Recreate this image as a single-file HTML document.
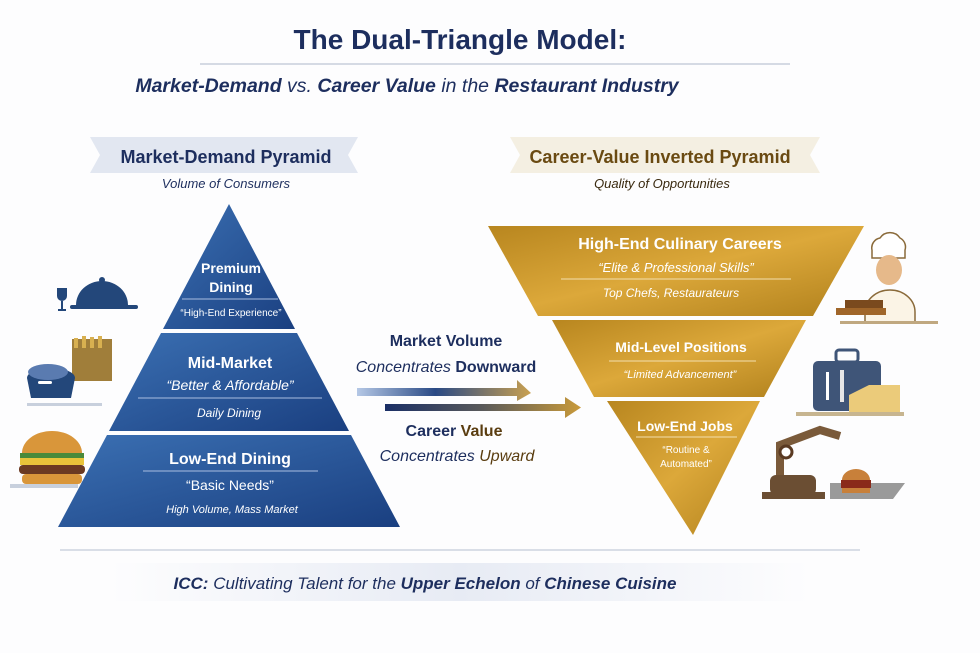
<!DOCTYPE html>
<html><head><meta charset="utf-8"><style>
html,body{margin:0;padding:0;background:#fdfdfe;}
svg{display:block;font-family:"Liberation Sans",sans-serif;}
</style></head><body>
<svg width="980" height="653" viewBox="0 0 980 653" xmlns="http://www.w3.org/2000/svg">
<defs>
<linearGradient id="bl" x1="0" y1="0" x2="1" y2="1"><stop offset="0" stop-color="#3b70b3"/><stop offset="1" stop-color="#1a3f80"/></linearGradient>
<linearGradient id="gd" x1="0" y1="0" x2="1" y2="1"><stop offset="0" stop-color="#b8861f"/><stop offset="0.5" stop-color="#dca83a"/><stop offset="1" stop-color="#b0801c"/></linearGradient>
<linearGradient id="a1" x1="0" x2="1"><stop offset="0" stop-color="#b5c8e6"/><stop offset="0.45" stop-color="#2a4a85"/><stop offset="1" stop-color="#c9a050"/></linearGradient>
<linearGradient id="a2" x1="0" x2="1"><stop offset="0" stop-color="#1a2f66"/><stop offset="0.5" stop-color="#5a5a5a"/><stop offset="1" stop-color="#c99a3a"/></linearGradient>
<linearGradient id="ft" x1="0" x2="1"><stop offset="0" stop-color="#fdfdfe"/><stop offset="0.5" stop-color="#e7ebf4"/><stop offset="1" stop-color="#fdfdfe"/></linearGradient>
</defs>
<text x="460" y="49" text-anchor="middle" font-size="28" font-weight="bold" fill="#1d2e5e">The Dual-Triangle Model:</text>
<line x1="200" y1="64" x2="790" y2="64" stroke="#c8cfdc" stroke-width="1.5"/>
<text x="407" y="92" text-anchor="middle" font-size="19.5" font-style="italic" fill="#1d2e5e"><tspan font-weight="bold">Market-Demand</tspan> vs. <tspan font-weight="bold">Career Value</tspan> in the <tspan font-weight="bold">Restaurant Industry</tspan></text>

<polygon points="90,137 358,137 348,155 358,173 90,173 100,155" fill="#e2e7f1"/>
<text x="226" y="163" text-anchor="middle" font-size="18" font-weight="bold" fill="#1d2e5e">Market-Demand Pyramid</text>
<text x="226" y="188" text-anchor="middle" font-size="13" font-style="italic" fill="#1d2e5e">Volume of Consumers</text>
<polygon points="510,137 820,137 810,155 820,173 510,173 520,155" fill="#f4efe2"/>
<text x="660" y="163" text-anchor="middle" font-size="18" font-weight="bold" fill="#6a4a12">Career-Value Inverted Pyramid</text>
<text x="662" y="188" text-anchor="middle" font-size="13" font-style="italic" fill="#3a2a10">Quality of Opportunities</text>

<polygon points="229,204 295,329 163,329" fill="url(#bl)"/>
<polygon points="161,333 297,333 349,431 109,431" fill="url(#bl)"/>
<polygon points="107,435 351,435 400,527 58,527" fill="url(#bl)"/>
<g fill="#fff" text-anchor="middle">
<text x="231" y="273" font-size="14" font-weight="bold">Premium</text>
<text x="231" y="292" font-size="14" font-weight="bold">Dining</text>
<line x1="182" y1="299" x2="278" y2="299" stroke="#a9bde0"/>
<text x="231" y="316" font-size="10">“High-End Experience”</text>
<text x="230" y="368" font-size="16" font-weight="bold">Mid-Market</text>
<text x="230" y="390" font-size="14" font-style="italic">“Better &amp; Affordable”</text>
<line x1="138" y1="398" x2="322" y2="398" stroke="#a9bde0"/>
<text x="229" y="417" font-size="12" font-style="italic">Daily Dining</text>
<text x="230" y="464" font-size="16" font-weight="bold">Low-End Dining</text>
<line x1="143" y1="471" x2="318" y2="471" stroke="#a9bde0"/>
<text x="230" y="490" font-size="14">“Basic Needs”</text>
<text x="232" y="513" font-size="11" font-style="italic">High Volume, Mass Market</text>
</g>

<polygon points="488,226 864,226 813,316 538,316" fill="url(#gd)"/>
<polygon points="552,320 806,320 764,397 594,397" fill="url(#gd)"/>
<polygon points="607,401 760,401 693,535" fill="url(#gd)"/>
<g fill="#fff" text-anchor="middle">
<text x="680" y="249" font-size="16" font-weight="bold">High-End Culinary Careers</text>
<text x="676" y="272" font-size="13" font-style="italic">“Elite &amp; Professional Skills”</text>
<line x1="561" y1="279" x2="791" y2="279" stroke="#f3dfae"/>
<text x="671" y="297" font-size="12" font-style="italic">Top Chefs, Restaurateurs</text>
<text x="681" y="352" font-size="14" font-weight="bold">Mid-Level Positions</text>
<line x1="609" y1="361" x2="756" y2="361" stroke="#f3dfae"/>
<text x="680" y="378" font-size="11" font-style="italic">“Limited Advancement”</text>
<text x="685" y="431" font-size="14" font-weight="bold">Low-End Jobs</text>
<line x1="636" y1="437" x2="737" y2="437" stroke="#f3dfae"/>
<text x="686" y="453" font-size="10">“Routine &amp;</text>
<text x="686" y="467" font-size="10">Automated”</text>
</g>

<text x="446" y="346" text-anchor="middle" font-size="16" font-weight="bold" fill="#1d2e5e">Market Volume</text>
<text x="446" y="372" text-anchor="middle" font-size="16" fill="#1d2e5e"><tspan font-style="italic">Concentrates</tspan> <tspan font-weight="bold">Downward</tspan></text>
<polygon points="357,388 517,388 517,380 531,393 517,401 517,396 357,396" fill="url(#a1)"/>
<polygon points="385,404 565,404 565,397 581,407.5 565,418 565,411 385,411" fill="url(#a2)"/>
<text x="454" y="436" text-anchor="middle" font-size="16" font-weight="bold" fill="#1d2e5e">Career <tspan fill="#5a3d10">Value</tspan></text>
<text x="457" y="461" text-anchor="middle" font-size="16" font-style="italic" fill="#1d2e5e">Concentrates <tspan fill="#5a3d10">Upward</tspan></text>

<g>
<path d="M57,288 h10 v8 a5,5 0 0 1 -10,0z" fill="#23477a"/><rect x="61" y="301" width="2" height="9" fill="#23477a"/><rect x="58" y="309" width="8" height="2" fill="#23477a"/>
<path d="M76,305 a26,24 0 0 1 52,0z" fill="#23477a"/><circle cx="102" cy="280" r="3" fill="#23477a"/>
<rect x="70" y="305" width="68" height="4" rx="2" fill="#23477a"/>
<rect x="72" y="339" width="40" height="42" fill="#a07e3a"/><rect x="74" y="338" width="4" height="10" fill="#d8b050"/><rect x="82" y="336" width="4" height="12" fill="#d8b050"/><rect x="90" y="337" width="4" height="11" fill="#d8b050"/><rect x="98" y="336" width="4" height="12" fill="#d8b050"/>
<path d="M27,378 a24,10 0 0 1 48,0 l-4,20 h-40z" fill="#23477a"/><ellipse cx="48" cy="372" rx="20" ry="8" fill="#5a7bb0"/><rect x="38" y="381" width="14" height="3" rx="1.5" fill="#fff"/>
<rect x="27" y="403" width="75" height="3" fill="#c8d0dd"/>
<path d="M22,453 a30,22 0 0 1 60,0z" fill="#d9963a"/><rect x="20" y="453" width="64" height="5" fill="#4a8a3a"/><rect x="20" y="458" width="64" height="7" fill="#e8c33a"/><rect x="19" y="465" width="66" height="9" rx="4" fill="#6b3a22"/><rect x="22" y="474" width="60" height="10" rx="4" fill="#d9963a"/>
<rect x="10" y="484" width="68" height="4" fill="#c8d0dd"/>
</g>
<g>
<path d="M872,250 a10,10 0 0 1 8,-12 a12,12 0 0 1 20,0 a10,10 0 0 1 5,12 v8 h-33z" fill="#fff" stroke="#8a6a3a" stroke-width="1.5"/>
<ellipse cx="889" cy="270" rx="13" ry="15" fill="#e6b98a"/>
<path d="M865,312 a25,22 0 0 1 50,0 v10 h-50z" fill="#fbf4e6" stroke="#8a6a3a" stroke-width="1.5"/>
<rect x="845" y="300" width="38" height="8" fill="#7a4a1e"/><rect x="836" y="308" width="50" height="7" fill="#a0662a"/><rect x="840" y="321" width="98" height="3" fill="#c0a880"/>
<rect x="813" y="361" width="68" height="50" rx="5" fill="#3f5578"/><rect x="836" y="350" width="22" height="12" rx="3" fill="none" stroke="#3f5578" stroke-width="3"/>
<rect x="826" y="372" width="3" height="28" fill="#fff"/><rect x="840" y="370" width="4" height="32" fill="#e6e6e6"/>
<path d="M849,395 l20,-10 h31 v27 h-51z" fill="#ebcb7a"/>
<rect x="796" y="412" width="108" height="4" fill="#c7b590"/>
<path d="M780,480 v-35 l40,-15 l20,6" fill="none" stroke="#7a5a3a" stroke-width="8"/>
<circle cx="786" cy="452" r="6" fill="#fff" stroke="#5a3a22" stroke-width="3"/>
<rect x="770" y="475" width="46" height="20" rx="6" fill="#6b4e33"/>
<rect x="762" y="492" width="63" height="7" fill="#6b4e33"/>
<path d="M830,483 h75 l-12,16 h-63z" fill="#9a9a9a"/>
<path d="M842,480 a14,11 0 0 1 28,0z" fill="#c8803a"/><rect x="841" y="480" width="30" height="8" fill="#8a2a1a"/><rect x="842" y="488" width="28" height="5" fill="#c8803a"/>
</g>

<line x1="60" y1="550" x2="860" y2="550" stroke="#cdd3df" stroke-width="1.5"/>
<rect x="110" y="563" width="700" height="38" fill="url(#ft)"/>
<text x="425" y="589" text-anchor="middle" font-size="17" font-style="italic" fill="#1d2e5e"><tspan font-weight="bold">ICC:</tspan> Cultivating Talent for the <tspan font-weight="bold">Upper Echelon</tspan> of <tspan font-weight="bold">Chinese Cuisine</tspan></text>
</svg>
</body></html>
